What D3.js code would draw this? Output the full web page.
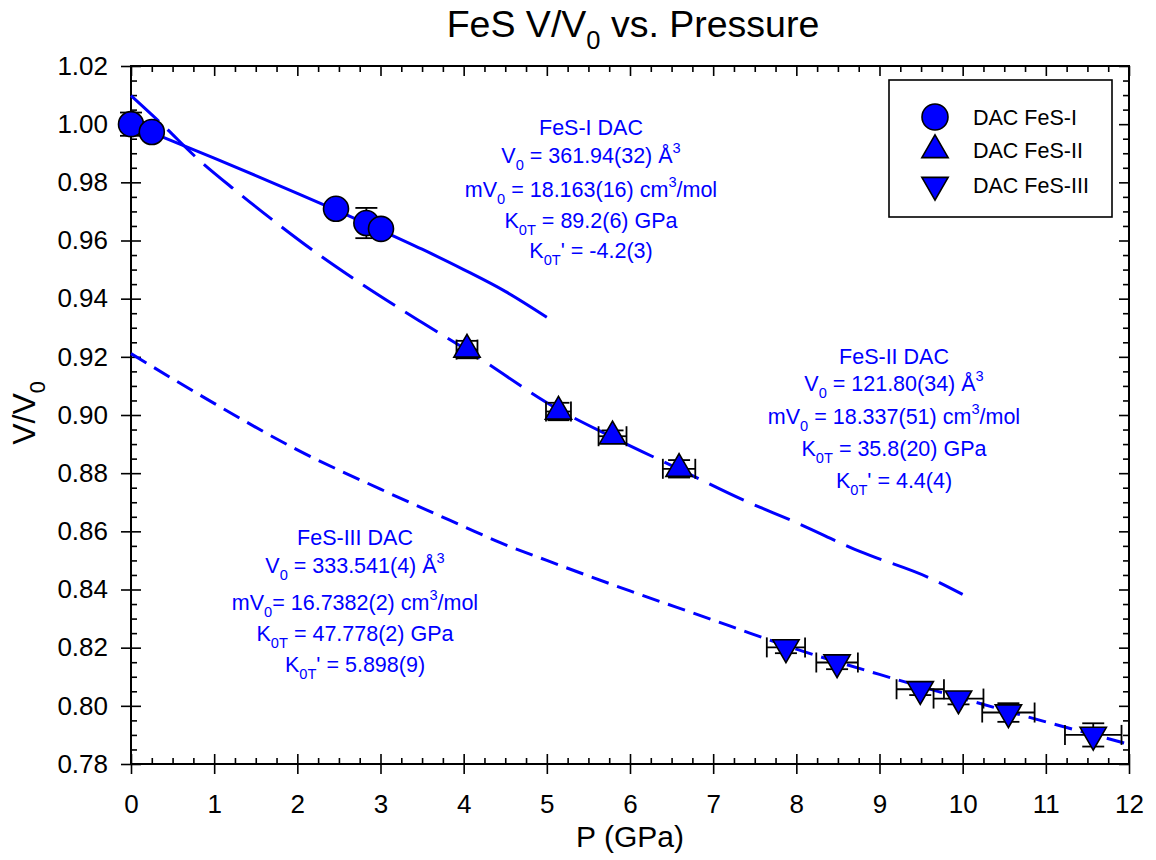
<!DOCTYPE html>
<html>
<head>
<meta charset="utf-8">
<script src="https://cdnjs.cloudflare.com/ajax/libs/d3/7.8.5/d3.min.js"></script>
<style>
  html, body { margin: 0; padding: 0; background: #fff; }
  svg { display: block; font-family: "Liberation Sans", Arial, sans-serif; }
</style>
</head>
<body>
<svg id="chart" width="1156" height="860"></svg>
<script>
// ---------- data ----------
const xTicks = [0,1,2,3,4,5,6,7,8,9,10,11,12];
const yTicks = [0.78,0.80,0.82,0.84,0.86,0.88,0.90,0.92,0.94,0.96,0.98,1.00,1.02];

// FeS-I (circles)
const pI  = [0, 0.25, 2.465, 2.83, 3.006];
const vI  = [1.000, 0.9973, 0.9709, 0.9660, 0.9640];
const eyI = [0.004, 0, 0, 0.0052, 0];
const exI = [0, 0, 0, 0, 0];

// FeS-II (up triangles)
const pII  = [4.04, 5.14, 5.79, 6.59];
const vII  = [0.9225, 0.9012, 0.8927, 0.8815];
const exII = [0.126, 0.15, 0.168, 0.195];
const eyII = [0.003, 0.003, 0.002, 0.003];

// FeS-III (down triangles)
const pIII  = [7.875, 8.49, 9.49, 9.95, 10.55, 11.57];
const vIII  = [0.8201, 0.8149, 0.8057, 0.8025, 0.7977, 0.7900];
const exIII = [0.23, 0.25, 0.285, 0.30, 0.315, 0.34];
const eyIII = [0.002, 0.0023, 0.002, 0.002, 0.0032, 0.004];

// fitted EoS curves
const fitI_P = [0, 0.5, 1.0, 1.5, 2.0, 2.5, 3.0, 3.5, 4.0, 4.5, 5.0];
const fitI_V = [1.000, 0.9942, 0.9883, 0.9823, 0.9762, 0.9700, 0.9636, 0.9570, 0.9500, 0.9425, 0.9336];

const fitII_P = [0, 0.39, 0.79, 1.27, 1.75, 2.23, 2.69, 3.5, 4.03, 5.14, 5.78, 6.59, 7.36, 8.0, 8.77, 9.6, 10.0];
const fitII_V = [1.0098, 0.9995, 0.9884, 0.9769, 0.9660, 0.9557, 0.9466, 0.9318, 0.9225, 0.9019, 0.8925, 0.8814, 0.8708, 0.8630, 0.8530, 0.8440, 0.8383];

const fitIII_P = [0, 1, 2, 3, 3.99, 4.44, 5, 6, 7, 7.44, 8, 9, 10, 11, 12];
const fitIII_V = [0.9211, 0.9040, 0.8880, 0.8745, 0.8618, 0.8561, 0.8500, 0.8395, 0.8295, 0.8250, 0.8195, 0.8108, 0.8025, 0.7945, 0.7868];

const legendLabels = ["DAC FeS-I", "DAC FeS-II", "DAC FeS-III"];

const noteI   = ["FeS-I DAC", "V_{0} = 361.94(32) Å^{3}", "mV_{0} = 18.163(16) cm^{3}/mol", "K_{0T} = 89.2(6) GPa", "K_{0T}' = -4.2(3)"];
const noteII  = ["FeS-II DAC", "V_{0} = 121.80(34) Å^{3}", "mV_{0} = 18.337(51) cm^{3}/mol", "K_{0T} = 35.8(20) GPa", "K_{0T}' = 4.4(4)"];
const noteIII = ["FeS-III DAC", "V_{0} = 333.541(4) Å^{3}", "mV_{0}= 16.7382(2) cm^{3}/mol", "K_{0T} = 47.778(2) GPa", "K_{0T}' = 5.898(9)"];

// ---------- layout ----------
const L = 131, R = 1129, T = 66, B = 764;
const BLUE = "#0000ff";
const svg = d3.select("#chart");

const x = d3.scaleLinear().domain([0, 12]).range([L, R]);
const y = d3.scaleLinear().domain([0.78, 1.02]).range([B, T]);

const xMinor = d3.range(0, 12.001, 0.25).filter(v => Math.abs(v - Math.round(v)) > 1e-6);
const yMinor = d3.range(0.78, 1.0201, 0.005).filter(v => Math.abs(v*50 - Math.round(v*50)) > 1e-6);

// rich text helper: _{sub} and ^{sup}
function rich(g, xp, yp, str, fs, anchor, color) {
  const t = g.append("text").attr("x", xp).attr("y", yp)
    .attr("text-anchor", anchor).attr("fill", color).style("font-size", fs + "px");
  const parts = str.split(/(_\{[^}]*\}|\^\{[^}]*\})/).filter(s => s.length);
  let shift = 0;
  parts.forEach(p => {
    let txt = p, target = 0, size = fs;
    if (p.startsWith("_{")) { txt = p.slice(2, -1); target = fs * 0.32; size = fs * 0.68; }
    else if (p.startsWith("^{")) { txt = p.slice(2, -1); target = -fs * 0.45; size = fs * 0.68; }
    t.append("tspan").attr("dy", target - shift).style("font-size", size + "px").text(txt);
    shift = target;
  });
  return t;
}

// ---------- axes ----------
function styleAxis(g) {
  g.select(".domain").remove();
  g.selectAll(".tick line").attr("stroke", "#000").attr("stroke-width", 1.6);
}
const tickFont = g => g.selectAll("text").attr("fill", "#000").style("font-size", "26px")
  .style("font-family", "Liberation Sans, Arial, sans-serif");
// bottom
svg.append("g").attr("transform", `translate(0,${B})`)
  .call(d3.axisBottom(x).tickValues(xTicks).tickSize(10).tickPadding(21).tickFormat(d3.format("d")))
  .call(styleAxis).call(tickFont);
svg.append("g").attr("transform", `translate(0,${B})`)
  .call(d3.axisTop(x).tickValues(xTicks).tickSize(10).tickFormat("")).call(styleAxis);
svg.append("g").attr("transform", `translate(0,${B})`)
  .call(d3.axisTop(x).tickValues(xMinor).tickSize(6).tickFormat("")).call(styleAxis);
// top
svg.append("g").attr("transform", `translate(0,${T})`)
  .call(d3.axisBottom(x).tickValues(xTicks).tickSize(10).tickFormat("")).call(styleAxis);
svg.append("g").attr("transform", `translate(0,${T})`)
  .call(d3.axisBottom(x).tickValues(xMinor).tickSize(6).tickFormat("")).call(styleAxis);
// left
svg.append("g").attr("transform", `translate(${L},0)`)
  .call(d3.axisLeft(y).tickValues(yTicks).tickSize(10).tickPadding(13).tickFormat(d3.format(".2f")))
  .call(styleAxis).call(tickFont);
svg.append("g").attr("transform", `translate(${L},0)`)
  .call(d3.axisRight(y).tickValues(yTicks).tickSize(10).tickFormat("")).call(styleAxis);
svg.append("g").attr("transform", `translate(${L},0)`)
  .call(d3.axisRight(y).tickValues(yMinor).tickSize(6).tickFormat("")).call(styleAxis);
// right
svg.append("g").attr("transform", `translate(${R},0)`)
  .call(d3.axisLeft(y).tickValues(yTicks).tickSize(10).tickFormat("")).call(styleAxis);
svg.append("g").attr("transform", `translate(${R},0)`)
  .call(d3.axisLeft(y).tickValues(yMinor).tickSize(6).tickFormat("")).call(styleAxis);

// frame
svg.append("rect").attr("x", L).attr("y", T).attr("width", R - L).attr("height", B - T)
  .attr("fill", "none").attr("stroke", "#000").attr("stroke-width", 2);

// ---------- curves ----------
const plot = svg.append("g");
const line = d3.line().x(d => x(d[0])).y(d => y(d[1])).curve(d3.curveMonotoneX);
plot.append("path").datum(d3.zip(fitI_P, fitI_V)).attr("d", line)
  .attr("fill", "none").attr("stroke", BLUE).attr("stroke-width", 3);
plot.append("path").datum(d3.zip(fitII_P, fitII_V)).attr("d", line)
  .attr("fill", "none").attr("stroke", BLUE).attr("stroke-width", 3).attr("stroke-dasharray", "38,12");
plot.append("path").datum(d3.zip(fitIII_P, fitIII_V)).attr("d", line)
  .attr("fill", "none").attr("stroke", BLUE).attr("stroke-width", 3).attr("stroke-dasharray", "18,9");

// ---------- error bars ----------
function errorBars(P, V, EX, EY) {
  const g = plot.append("g").attr("stroke", "#000").attr("stroke-width", 1.8).attr("fill", "none");
  P.forEach((p, i) => {
    const cx = x(p), cy = y(V[i]);
    if (EX[i] > 0) {
      const x0 = x(p - EX[i]), x1 = x(p + EX[i]);
      g.append("line").attr("x1", x0).attr("x2", x1).attr("y1", cy).attr("y2", cy);
      g.append("line").attr("x1", x0).attr("x2", x0).attr("y1", cy - 10).attr("y2", cy + 10);
      g.append("line").attr("x1", x1).attr("x2", x1).attr("y1", cy - 10).attr("y2", cy + 10);
    }
    if (EY[i] > 0) {
      const y0 = y(V[i] - EY[i]), y1 = y(V[i] + EY[i]);
      g.append("line").attr("x1", cx).attr("x2", cx).attr("y1", y0).attr("y2", y1);
      g.append("line").attr("x1", cx - 11).attr("x2", cx + 11).attr("y1", y0).attr("y2", y0);
      g.append("line").attr("x1", cx - 11).attr("x2", cx + 11).attr("y1", y1).attr("y2", y1);
    }
  });
}
errorBars(pI, vI, exI, eyI);
errorBars(pII, vII, exII, eyII);
errorBars(pIII, vIII, exIII, eyIII);

// ---------- symbols ----------
const tri = d3.symbol().type(d3.symbolTriangle).size(300);
function drawSymbols(P, V, kind) {
  const g = plot.append("g");
  P.forEach((p, i) => {
    const cx = x(p), cy = y(V[i]);
    if (kind === "circle") {
      g.append("circle").attr("cx", cx).attr("cy", cy).attr("r", 12.5)
        .attr("fill", BLUE).attr("stroke", "#000").attr("stroke-width", 1.6);
    } else {
      g.append("path").attr("d", tri())
        .attr("transform", `translate(${cx},${cy})` + (kind === "down" ? " rotate(180)" : ""))
        .attr("fill", BLUE).attr("stroke", "#000").attr("stroke-width", 1.6);
    }
  });
}
drawSymbols(pI, vI, "circle");
drawSymbols(pII, vII, "up");
drawSymbols(pIII, vIII, "down");

// ---------- legend ----------
const lg = svg.append("g");
lg.append("rect").attr("x", 889).attr("y", 80).attr("width", 223).attr("height", 137)
  .attr("fill", "#fff").attr("stroke", "#000").attr("stroke-width", 1.6);
const legendY = [117, 150, 185];
const kinds = ["circle", "up", "down"];
legendLabels.forEach((lab, i) => {
  const cy = legendY[i];
  if (kinds[i] === "circle") {
    lg.append("circle").attr("cx", 935).attr("cy", cy).attr("r", 13)
      .attr("fill", BLUE).attr("stroke", "#000").attr("stroke-width", 1.6);
  } else {
    lg.append("path").attr("d", tri())
      .attr("transform", `translate(935,${cy})` + (kinds[i] === "down" ? " rotate(180)" : ""))
      .attr("fill", BLUE).attr("stroke", "#000").attr("stroke-width", 1.6);
  }
  lg.append("text").attr("x", 973).attr("y", cy + 8).attr("fill", "#000")
    .style("font-size", "21.5px").text(lab);
});

// ---------- annotations ----------
const ann = svg.append("g");
const baseI = [135, 163, 197, 228, 258];
const baseII = [364, 391, 424, 456, 488];
const baseIII = [545, 573, 610, 641, 672];
noteI.forEach((s, i) => rich(ann, 591, baseI[i], s, 21.5, "middle", BLUE));
noteII.forEach((s, i) => rich(ann, 894, baseII[i], s, 21.5, "middle", BLUE));
noteIII.forEach((s, i) => rich(ann, 355, baseIII[i], s, 21.5, "middle", BLUE));

// ---------- titles ----------
rich(svg, 633, 37, "FeS V/V_{0} vs. Pressure", 37.5, "middle", "#000");
rich(svg, 630, 847, "P (GPa)", 30, "middle", "#000");
const yl = svg.append("g").attr("transform", "translate(35,413) rotate(-90)");
rich(yl, 0, 0, "V/V_{0}", 32, "middle", "#000");
</script>
</body>
</html>
